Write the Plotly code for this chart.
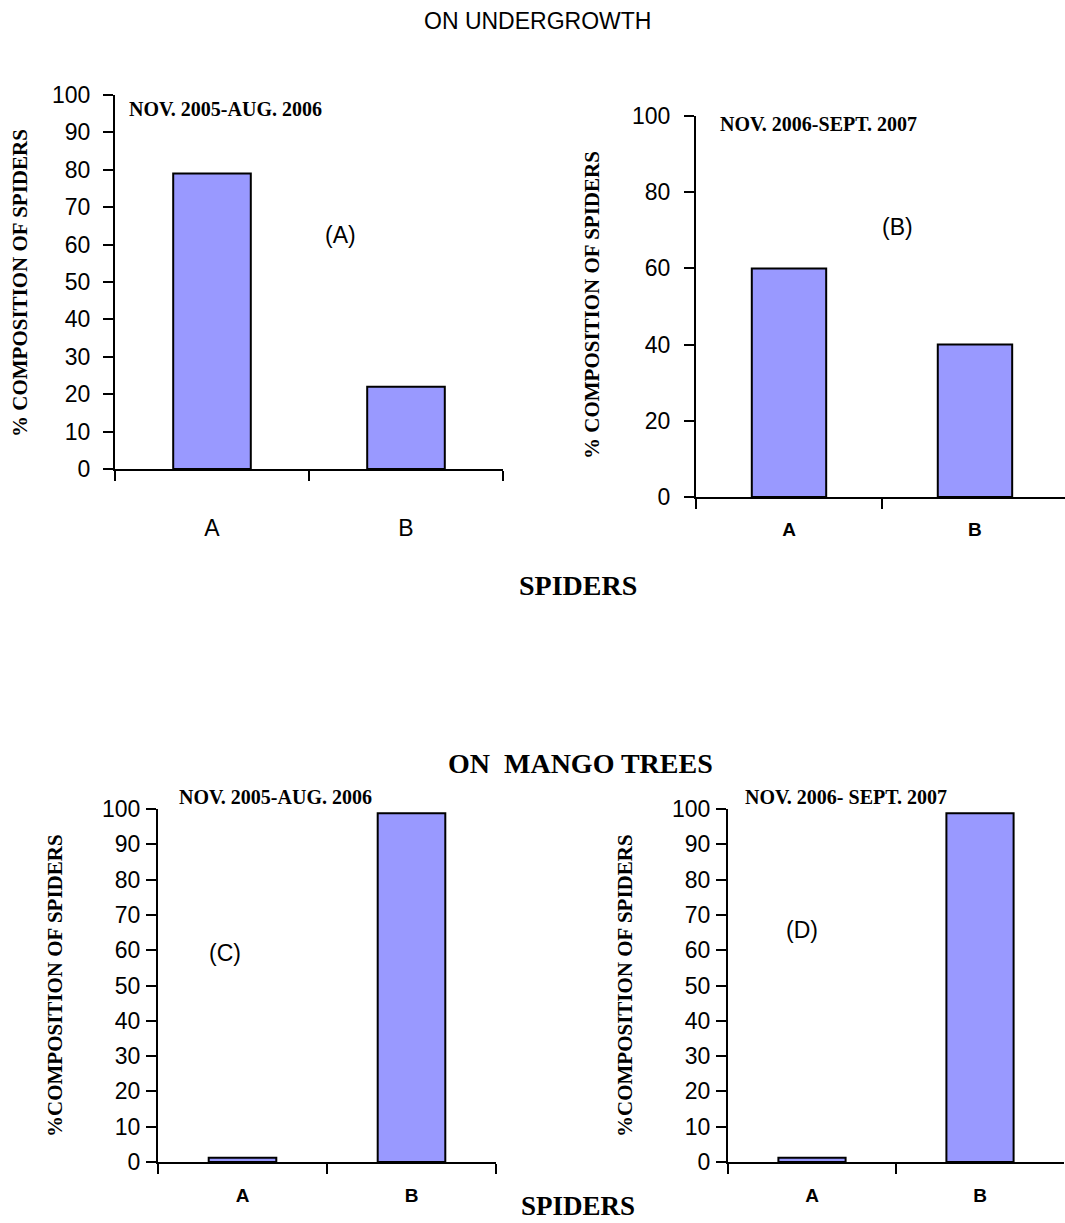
import plotly.graph_objects as go

# --- data -------------------------------------------------------------
spiders = ["A", "B"]
undergrowth_0506 = [79, 22]     # (A) Nov. 2005 - Aug. 2006
undergrowth_0607 = [60, 40]     # (B) Nov. 2006 - Sept. 2007
mango_0506 = [1.2, 98.8]        # (C) Nov. 2005 - Aug. 2006
mango_0607 = [1.2, 98.8]        # (D) Nov. 2006 - Sept. 2007

period_labels = ["NOV. 2005-AUG. 2006", "NOV. 2006-SEPT. 2007",
                 "NOV. 2005-AUG. 2006", "NOV. 2006- SEPT. 2007"]
panel_tags = ["(A)", "(B)", "(C)", "(D)"]

W, H = 1065, 1223
SANS = "Liberation Sans, Arial, sans-serif"
SERIF = "Liberation Serif, Times New Roman, serif"
BAR_FILL = "#9999FF"


def fx(px):
    return px / W


def fy(py):
    return 1 - py / H


fig = go.Figure()

# panel layout: pixel box (x0, x1, ytop, ybottom), y-step, fonts and label offsets
panels = [
    dict(data=undergrowth_0506, box=(115, 503, 95, 469), dtick=10, yfs=23,
         xbold=False, xfs=23, ystand=8, xstand=37, xend=1.5),
    dict(data=undergrowth_0607, box=(696, 1065, 116, 497), dtick=20, yfs=23,
         xbold=True, xfs=19, ystand=9, xstand=14, xend=1.484),
    dict(data=mango_0506, box=(158, 496, 809, 1162), dtick=10, yfs=23,
         xbold=True, xfs=19, ystand=1, xstand=15, xend=1.5),
    dict(data=mango_0607, box=(728, 1064, 809, 1162), dtick=10, yfs=23,
         xbold=True, xfs=19, ystand=1, xstand=15, xend=1.5),
]

for i, p in enumerate(panels, start=1):
    x0, x1, yt, yb = p["box"]
    xa = "x" if i == 1 else f"x{i}"
    ya = "y" if i == 1 else f"y{i}"
    fig.add_trace(go.Bar(
        x=spiders, y=p["data"], width=0.4,
        marker=dict(color=BAR_FILL, line=dict(color="black", width=2)),
        xaxis=xa, yaxis=ya, showlegend=False, hoverinfo="x+y",
    ))
    xkey = "xaxis" if i == 1 else f"xaxis{i}"
    ykey = "yaxis" if i == 1 else f"yaxis{i}"
    fig.layout[xkey] = dict(
        domain=[fx(x0), fx(x1)], anchor=ya, type="category",
        range=[-0.5, p["xend"]], tickson="boundaries", automargin=False,
        showline=True, linecolor="black", linewidth=2,
        ticks="outside", ticklen=10, tickwidth=2, tickcolor="black",
        showgrid=False, zeroline=False,
        tickfont=dict(family=SANS, size=p["xfs"], color="black",
                      weight="bold" if p["xbold"] else "normal"),
        ticklabelstandoff=p["xstand"],
    )
    fig.layout[ykey] = dict(
        domain=[fy(yb), fy(yt)], anchor=xa, range=[0, 100], automargin=False,
        tick0=0, dtick=p["dtick"],
        showline=True, linecolor="black", linewidth=2,
        ticks="outside", ticklen=10, tickwidth=2, tickcolor="black",
        showgrid=False, zeroline=False,
        tickfont=dict(family=SANS, size=p["yfs"], color="black"),
        ticklabelstandoff=p["ystand"],
    )

annotations = []


def label(text, px, py, family, size, bold=False, xanchor="center", angle=0):
    annotations.append(dict(
        text=text, x=fx(px), y=fy(py), xref="paper", yref="paper",
        xanchor=xanchor, yanchor="middle", showarrow=False, textangle=angle,
        font=dict(family=family, size=size, color="black",
                  weight="bold" if bold else "normal"),
    ))


# section headings and shared x titles
label("ON UNDERGROWTH", 537, 21, SANS, 23)
label("SPIDERS", 578, 585, SERIF, 28, bold=True)
label("ON\u00a0\u00a0MANGO TREES", 580, 763, SERIF, 28, bold=True)
label("SPIDERS", 578, 1206, SERIF, 27, bold=True)

# period captions
label(period_labels[0], 127, 109, SERIF, 20, bold=True, xanchor="left")
label(period_labels[1], 718, 124, SERIF, 20, bold=True, xanchor="left")
label(period_labels[2], 177, 797, SERIF, 20, bold=True, xanchor="left")
label(period_labels[3], 743, 797, SERIF, 20, bold=True, xanchor="left")

# panel tags
label(panel_tags[0], 340, 235, SANS, 23)
label(panel_tags[1], 897, 227, SANS, 23)
label(panel_tags[2], 225, 953, SANS, 23)
label(panel_tags[3], 802, 930, SANS, 23)

# y-axis titles
label("% COMPOSITION OF SPIDERS", 20, 283, SERIF, 21, bold=True, angle=-90)
label("% COMPOSITION OF SPIDERS", 592, 305, SERIF, 21, bold=True, angle=-90)
label("%COMPOSITION OF SPIDERS", 55, 986, SERIF, 21, bold=True, angle=-90)
label("%COMPOSITION OF SPIDERS", 625, 986, SERIF, 21, bold=True, angle=-90)

fig.update_layout(
    width=W, height=H, margin=dict(l=0, r=0, t=0, b=0, autoexpand=False),
    paper_bgcolor="white", plot_bgcolor="white",
    annotations=annotations, bargap=0.6,
)

fig.write_html("out.html")
